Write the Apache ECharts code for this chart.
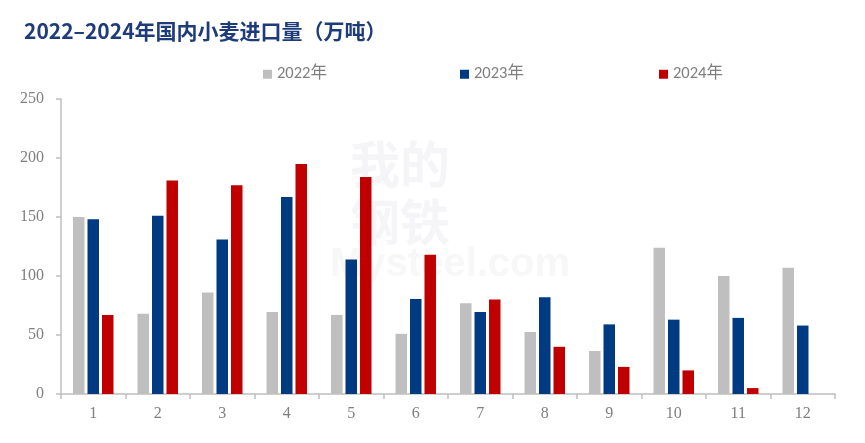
<!DOCTYPE html>
<html><head><meta charset="utf-8">
<script src="https://cdn.jsdelivr.net/npm/echarts@6/dist/echarts.min.js"></script>
<style>html,body{margin:0;padding:0;background:#fff}#c{width:865px;height:443px}</style>
</head><body><div id="c"></div>
<script>
const categories = ['1','2','3','4','5','6','7','8','9','10','11','12'];
const s2022 = [150, 68, 86, 69.5, 67, 51, 77, 52.5, 36.5, 124, 100, 107];
const s2023 = [148, 151, 131, 167, 114, 80.5, 69.5, 82, 59, 63, 64.5, 58];
const s2024 = [67, 181, 177, 195, 184, 118, 80, 40, 23, 20, 5, null];
const yTicks = {min: 0, max: 250, interval: 50};

const chart = echarts.init(document.getElementById('c'));
const legendText = {color: '#7f7f7f', fontSize: 16.5, fontFamily: 'Carlito, "Liberation Sans", "Noto Sans CJK SC", sans-serif'};
const mkLegend = (name, left) => ({
  data: [name], left: left, top: 61, itemWidth: 9, itemHeight: 9, itemGap: 4,
  icon: 'rect', textStyle: legendText, selectedMode: false
});
chart.setOption({
  animation: false,
  title: {
    text: '2022–2024年国内小麦进口量（万吨）', left: 19, top: 16,
    textStyle: {color: '#1f3c7a', fontSize: 21, fontWeight: 'bold', fontFamily: '"Noto Sans CJK SC", sans-serif'}
  },
  graphic: [
    {type: 'text', left: 350, top: 135, style: {text: '我的\n钢铁', fontSize: 50, lineHeight: 58, fill: 'rgba(200,200,215,0.18)', fontWeight: 'bold', fontFamily: '"Noto Sans CJK SC"'}, z: -1},
    {type: 'text', left: 330, top: 245, style: {text: 'Mysteel.com', fontSize: 40, fill: 'rgba(200,200,200,0.15)', fontWeight: 'bold', fontFamily: '"Liberation Sans"'}, z: -1}
  ],
  legend: [mkLegend('2022年', 258), mkLegend('2023年', 455), mkLegend('2024年', 654)],
  grid: {left: 61, right: 30, top: 99, bottom: 49},
  xAxis: {
    type: 'category', data: categories,
    axisLine: {lineStyle: {color: '#bfbfbf', width: 1.5}},
    axisTick: {show: true, length: 5, lineStyle: {color: '#bfbfbf', width: 1.5}},
    axisLabel: {color: '#7f7f7f', fontSize: 16, margin: 12, fontFamily: '"Liberation Serif", serif'}
  },
  yAxis: {
    type: 'value', min: yTicks.min, max: yTicks.max, interval: yTicks.interval,
    splitLine: {show: false},
    axisLine: {show: true, lineStyle: {color: '#bfbfbf', width: 1.5}},
    axisTick: {show: true, length: 5, lineStyle: {color: '#bfbfbf', width: 1.5}},
    axisLabel: {color: '#7f7f7f', fontSize: 16, margin: 17, fontFamily: '"Liberation Serif", serif'}
  },
  series: [
    {name: '2022年', type: 'bar', data: s2022, barWidth: 11.5, barGap: '26%', itemStyle: {color: '#bfbfbf'}},
    {name: '2023年', type: 'bar', data: s2023, barWidth: 11.5, barGap: '26%', itemStyle: {color: '#003a80'}},
    {name: '2024年', type: 'bar', data: s2024, barWidth: 11.5, barGap: '26%', itemStyle: {color: '#c00000'}}
  ]
});
</script></body></html>
